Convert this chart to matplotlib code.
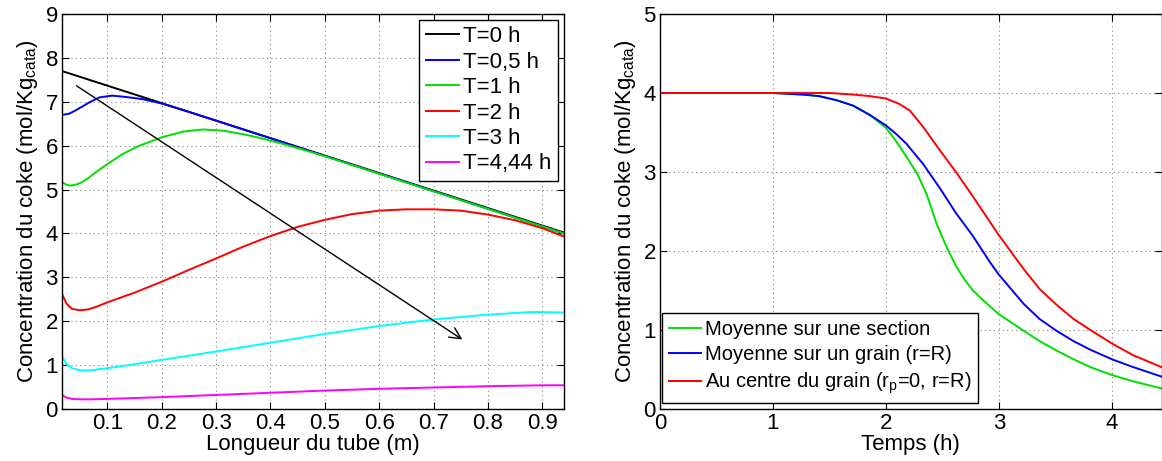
import matplotlib
matplotlib.use("Agg")
import matplotlib.pyplot as plt

plt.rcParams["font.family"] = ["Liberation Sans", "DejaVu Sans"]
plt.rcParams["mathtext.fontset"] = "custom"
plt.rcParams["mathtext.rm"] = "Liberation Sans"
plt.rcParams["mathtext.it"] = "Liberation Sans"

# Left panel: profiles along the tube
x_t0 = [0.0167, 0.94]
y_t0 = [7.70, 4.02]

x_t05 = [0.0167, 0.03, 0.041, 0.055, 0.066, 0.085, 0.109, 0.134, 0.165, 0.2,
         0.25, 0.3, 0.94]
y_t05 = [6.70, 6.73, 6.80, 6.90, 6.98, 7.10, 7.14, 7.11, 7.06, 6.96, 6.77,
         6.57, 4.00]

x_t1 = [0.0167, 0.025, 0.032, 0.042, 0.054, 0.066, 0.078, 0.1, 0.128, 0.159,
        0.2, 0.239, 0.276, 0.314, 0.35, 0.376, 0.42, 0.46, 0.5, 0.94]
y_t1 = [5.17, 5.11, 5.09, 5.11, 5.17, 5.27, 5.39, 5.58, 5.81, 6.00,
        6.19, 6.32, 6.37, 6.34, 6.26, 6.19, 6.05, 5.91, 5.76, 4.00]

x_t2 = [0.0167, 0.025, 0.035, 0.05, 0.065, 0.08, 0.1, 0.15, 0.2, 0.25, 0.3, 0.35,
        0.4, 0.45, 0.5, 0.55, 0.6, 0.65, 0.7, 0.75, 0.8, 0.85, 0.9, 0.94]
y_t2 = [2.62, 2.40, 2.28, 2.25, 2.27, 2.33, 2.43, 2.65, 2.90, 3.17, 3.43, 3.70,
        3.94, 4.15, 4.31, 4.44, 4.52, 4.55, 4.55, 4.52, 4.43, 4.30, 4.12, 3.93]

x_t3 = [0.0167, 0.025, 0.035, 0.05, 0.07, 0.1, 0.15, 0.2, 0.3, 0.4, 0.5, 0.6, 0.7,
        0.8, 0.88, 0.94]
y_t3 = [1.20, 1.02, 0.93, 0.88, 0.88, 0.93, 1.02, 1.12, 1.31, 1.51, 1.71, 1.89,
        2.04, 2.15, 2.21, 2.20]

x_t444 = [0.0167, 0.025, 0.035, 0.05, 0.07, 0.1, 0.2, 0.3, 0.4, 0.5, 0.6, 0.7,
          0.8, 0.9, 0.94]
y_t444 = [0.32, 0.26, 0.23, 0.22, 0.22, 0.23, 0.27, 0.32, 0.37, 0.42, 0.46,
          0.49, 0.52, 0.54, 0.54]

left_labels = ["T=0 h", "T=0,5 h", "T=1 h", "T=2 h", "T=3 h", "T=4,44 h"]

# arrow showing evolution with time
arrow_start = (0.039, 7.40)
arrow_end = (0.757, 1.55)

# Right panel: coke vs time
t_sec = [0.0, 1.0, 1.27, 1.41, 1.56, 1.71, 1.86, 2.0, 2.08, 2.15, 2.21, 2.28,
         2.36, 2.45, 2.54, 2.62, 2.7, 2.77, 2.85, 2.92, 3.0, 3.22, 3.36, 3.51,
         3.66, 3.81, 4.0, 4.19, 4.44]
c_sec = [4.0, 4.0, 3.98, 3.96, 3.91, 3.84, 3.72, 3.56, 3.41, 3.26, 3.13, 2.97,
         2.72, 2.34, 2.04, 1.81, 1.63, 1.50, 1.39, 1.30, 1.20, 0.99, 0.86, 0.74,
         0.63, 0.53, 0.43, 0.35, 0.26]

t_grain = [0.0, 1.0, 1.27, 1.41, 1.56, 1.71, 1.86, 2.0, 2.1, 2.18, 2.33, 2.48,
           2.62, 2.77, 2.92, 3.0, 3.22, 3.36, 3.51, 3.66, 3.81, 4.0, 4.19, 4.44]
c_grain = [4.0, 4.0, 3.98, 3.96, 3.91, 3.84, 3.72, 3.59, 3.47, 3.36, 3.10, 2.79,
           2.48, 2.19, 1.86, 1.70, 1.33, 1.14, 0.99, 0.86, 0.75, 0.63, 0.53, 0.41]

t_centre = [0.0, 1.0, 1.5, 1.71, 1.86, 2.0, 2.12, 2.21, 2.33, 2.48, 2.62, 2.77,
            2.92, 3.0, 3.22, 3.36, 3.51, 3.66, 3.81, 4.0, 4.19, 4.44]
c_centre = [4.0, 4.0, 4.0, 3.98, 3.96, 3.93, 3.86, 3.78, 3.57, 3.27, 3.00, 2.69,
            2.37, 2.20, 1.77, 1.52, 1.32, 1.14, 1.00, 0.83, 0.68, 0.53]

right_labels = ["Moyenne sur une section", "Moyenne sur un grain (r=R)",
                "Au centre du grain (r$_\\mathrm{p}$=0, r=R)"]

ylab = "Concentration du coke (mol/Kg$_\\mathrm{cata}$)"
fs = 16

fig = plt.figure(figsize=(11.62, 4.61), dpi=100)
ax1 = fig.add_axes([0.0534, 0.1128, 0.432, 0.8568])
ax2 = fig.add_axes([0.568, 0.1128, 0.4316, 0.8568])

lw = 1.4
ax1.plot(x_t0, y_t0, color="black", lw=lw, label=left_labels[0])
ax1.plot(x_t05, y_t05, color="#0000ff", lw=lw, label=left_labels[1])
ax1.plot(x_t1, y_t1, color="#00e000", lw=lw, label=left_labels[2])
ax1.plot(x_t2, y_t2, color="#ff0000", lw=lw, label=left_labels[3])
ax1.plot(x_t3, y_t3, color="#00ffff", lw=lw, label=left_labels[4])
ax1.plot(x_t444, y_t444, color="#ff00ff", lw=lw, label=left_labels[5])
ax1.annotate("", xy=arrow_end, xytext=arrow_start,
             arrowprops=dict(arrowstyle="->", color="black", lw=1.0,
                             mutation_scale=20))

ax1.set_xlim(0.0167, 0.94)
ax1.set_ylim(0, 9)
ax1.set_xticks([0.1, 0.2, 0.3, 0.4, 0.5, 0.6, 0.7, 0.8, 0.9])
ax1.set_yticks(range(0, 10))
ax1.set_xlabel("Longueur du tube (m)", fontsize=fs, labelpad=0)
ax1.set_ylabel(ylab, fontsize=fs, labelpad=4)
ax1.legend(loc="upper right", fontsize=fs, fancybox=False, framealpha=1,
           edgecolor="black", handlelength=1.5, handletextpad=0.2,
           labelspacing=0.2, borderpad=0.3, borderaxespad=0.25)

ax2.plot(t_sec, c_sec, color="#00e000", lw=lw, label=right_labels[0])
ax2.plot(t_grain, c_grain, color="#0000ff", lw=lw, label=right_labels[1])
ax2.plot(t_centre, c_centre, color="#ff0000", lw=lw, label=right_labels[2])
ax2.set_xlim(0, 4.44)
ax2.set_ylim(0, 5)
ax2.set_xticks([0, 1, 2, 3, 4])
ax2.set_yticks([0, 1, 2, 3, 4, 5])
ax2.set_xlabel("Temps (h)", fontsize=fs, labelpad=0)
ax2.set_ylabel(ylab, fontsize=fs, labelpad=4)
ax2.legend(loc="lower left", bbox_to_anchor=(0.003, 0.015), fontsize=14.5,
           fancybox=False, framealpha=1, edgecolor="black", handlelength=1.6,
           handletextpad=0.2, labelspacing=0.3, borderpad=0.35,
           borderaxespad=0)

for ax in (ax1, ax2):
    ax.grid(True, linestyle=(0, (1, 3)), color="#808080", lw=0.8)
    ax.tick_params(direction="in", top=True, right=True, labelsize=fs,
                   length=5, width=0.8, pad=3)
    for s in ax.spines.values():
        s.set_linewidth(1.0)

fig.savefig("out.png", dpi=100)
